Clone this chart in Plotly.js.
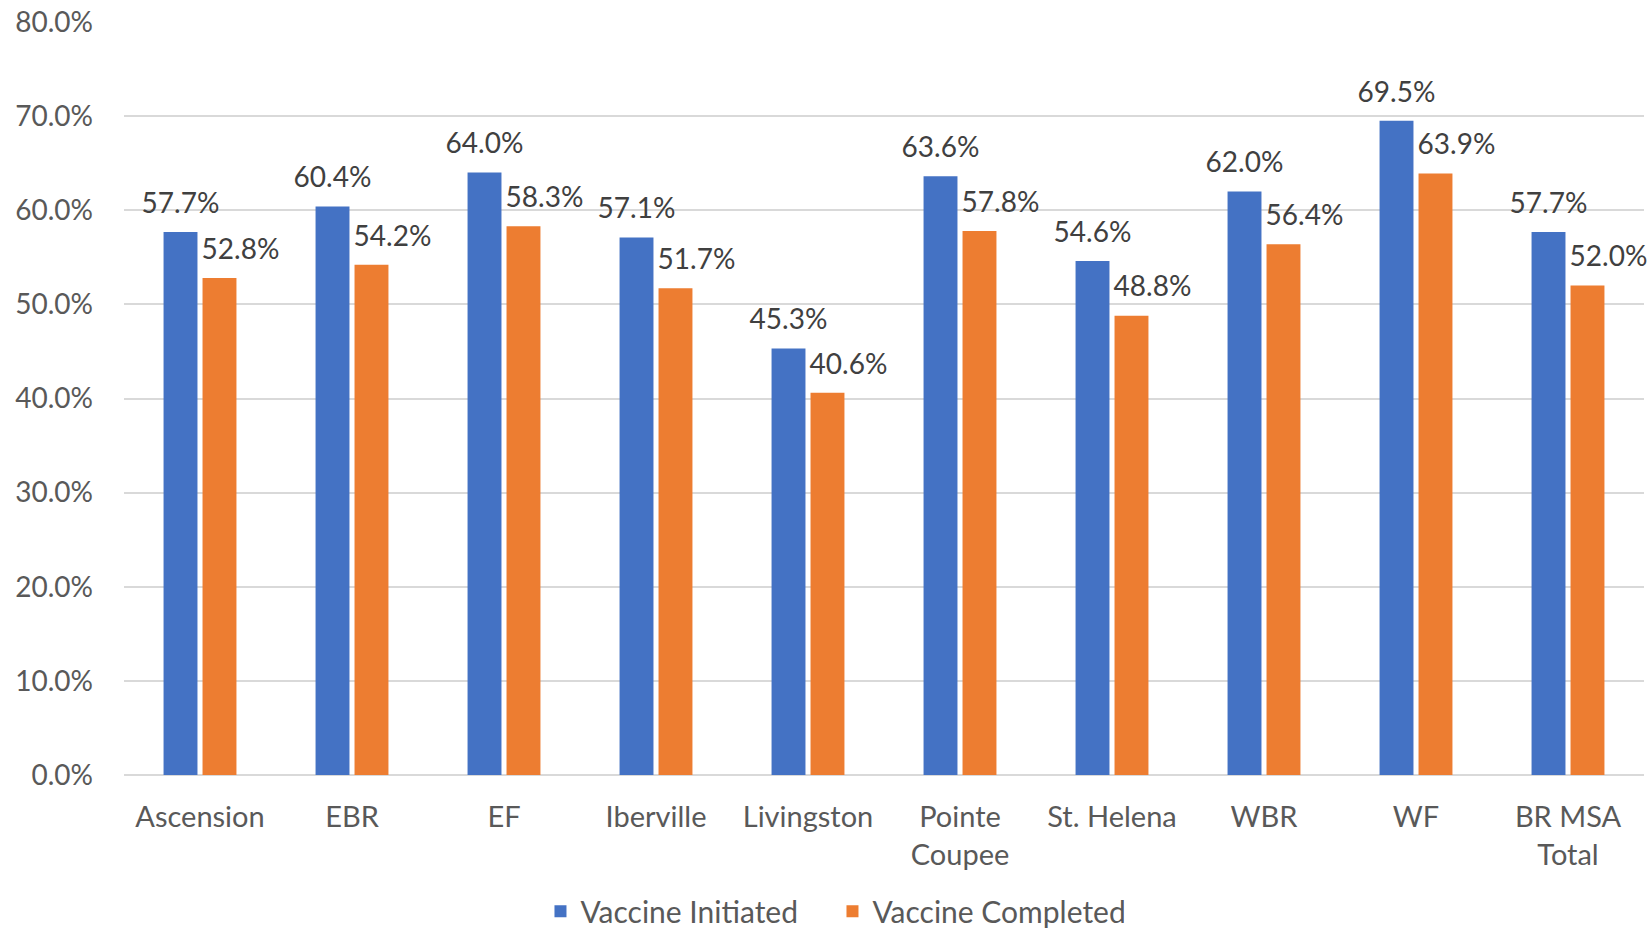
<!DOCTYPE html>
<html>
<head>
<meta charset="utf-8">
<script src="https://cdn.plot.ly/plotly-3.0.1.min.js"></script>
<style>html,body{margin:0;padding:0;background:#fff;}#chart{width:1647px;height:933px;}</style>
</head>
<body>
<div id="chart"></div>
<script>
const categories = ["Ascension", "EBR", "EF", "Iberville", "Livingston", "Pointe<br>Coupee", "St. Helena", "WBR", "WF", "BR MSA<br>Total"];
const initiated = [0.577, 0.604, 0.640, 0.571, 0.453, 0.636, 0.546, 0.620, 0.695, 0.577];
const completed = [0.528, 0.542, 0.583, 0.517, 0.406, 0.578, 0.488, 0.564, 0.639, 0.520];
const seriesNames = ["Vaccine Initiated", "Vaccine Completed"];
const yTicks = [0, 0.1, 0.2, 0.3, 0.4, 0.5, 0.6, 0.7, 0.8];

const FONT = "Lato, 'Open Sans', sans-serif";
// label: big-font value line plus a tiny spacer line below it (lifts the label off the bar top)
const labelTpl = (lead) => '<span style="font-size:28px">' + lead + '%{y:.1%}</span><br>\u00a0';
const mk = (name, vals, color, lead) => ({
  type: 'bar', name: name, x: categories, y: vals,
  marker: {color: color},
  texttemplate: labelTpl(lead), textposition: 'outside', cliponaxis: false, constraintext: 'none',
  textfont: {family: FONT, size: 11, color: '#404040'},
  hoverinfo: 'skip'
});
const data = [
  mk(seriesNames[0], initiated, '#4472C4', ''),
  mk(seriesNames[1], completed, '#ED7D31', '\u2002\u2002\u2002')
];
const layout = {
  width: 1647, height: 933,
  margin: {l: 124, r: 3, t: 22, b: 158, autoexpand: false},
  paper_bgcolor: '#fff', plot_bgcolor: '#fff',
  font: {family: FONT, size: 28, color: '#595959'},
  barmode: 'group', bargap: 0.487, bargroupgap: 0.13,
  xaxis: {type: 'category', showgrid: false, showline: false, zeroline: false, automargin: false,
          ticks: '', ticklabelstandoff: 22, tickfont: {family: FONT, size: 29, color: '#595959'}},
  yaxis: {range: [0, 0.8], tickvals: yTicks, tickformat: '.1%', showgrid: true, automargin: false,
          gridcolor: '#d9d9d9', gridwidth: 2, zeroline: true, zerolinecolor: '#d9d9d9', zerolinewidth: 2,
          showline: false, ticks: '', ticklabelstandoff: 30,
          tickfont: {family: FONT, size: 28, color: '#595959'}},
  showlegend: true,
  legend: {orientation: 'h', x: 0.274, xanchor: 'left', y: -0.181, yanchor: 'middle', entrywidth: 247,
           font: {family: FONT, size: 30, color: '#595959'}, itemclick: false}
};
Plotly.newPlot('chart', data, layout, {staticPlot: true});
</script>
</body>
</html>
